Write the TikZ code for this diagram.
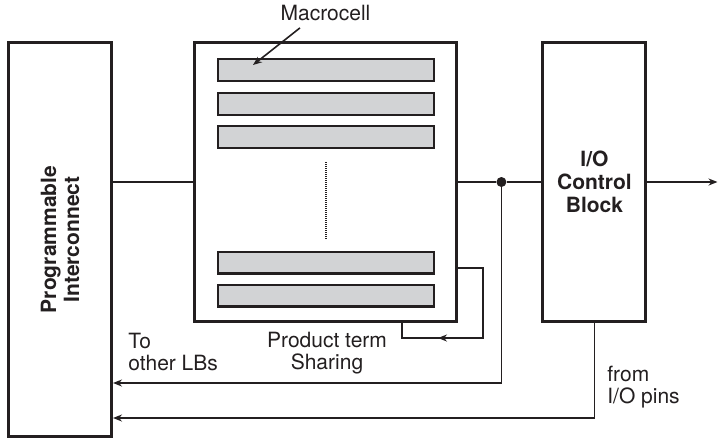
\documentclass[tikz,border=0pt]{standalone}
\usepackage{fontspec}
\setmainfont{TeX Gyre Heros}
\definecolor{ink}{RGB}{35,31,32}
\definecolor{cellgray}{RGB}{210,211,213}
\usetikzlibrary{arrows.meta, positioning, calc}

\begin{document}
\begin{tikzpicture}[
    x=0.5pt, y=-0.5pt,
    block/.style={draw=ink, line width=1.5pt, minimum width=51.5pt, minimum height=139.5pt,
                  align=center, font=\fontsize{10.5}{11.5}\selectfont\bfseries, text=ink},
    bar/.style={draw=ink, line width=1.2pt, fill=cellgray, minimum width=107.8pt, minimum height=10.8pt},
    wire/.style={draw=ink, line width=0.8pt},
    arr/.style={wire, -{Stealth[length=4.5pt, width=3.5pt]}},
    txt/.style={font=\fontsize{10.5}{11}\selectfont, text=ink},
    tapdot/.style={circle, fill=ink, inner sep=0pt, minimum size=5pt}
]
    \useasboundingbox (0,0) rectangle (720,441);

    % the three blocks
    \node[block, minimum height=197pt] (pi) at (60,239.5) {};
    \node[font=\fontsize{10.5}{11.5}\selectfont\bfseries, text=ink, align=center, rotate=90] (pilabel) at (pi.center) {Programmable\\Interconnect};
    \node[block, minimum width=131pt, right=40pt of pi.north east, anchor=north west] (lb) {};
    \node[block, right=41.75pt of lb] (io) {I/O\\Control\\Block};

    % macrocells
    \node[bar] (m1) at (326,70) {};
    \node[bar, below=5pt of m1] (m2) {};
    \node[bar, below=4.5pt of m2] (m3) {};
    \node[bar] (m5) at (326,295.5) {};
    \node[bar, above=4.5pt of m5] (m4) {};
    \draw[ink, line width=0.6pt, dash pattern=on 0.5pt off 0.5pt] ([yshift=-6.5pt]m3.south) -- ([yshift=5.5pt]m4.north);

    \node[txt] (mclabel) at (325.5,13) {Macrocell};
    \draw[arr] ([xshift=-12.75pt]mclabel.south) -- ([xshift=-36.5pt, yshift=2.5pt]m1.center);

    % signal path
    \node[tapdot] (tap) at ($(lb.east)!0.52!(io.west)$) {};
    \coordinate[right=35pt of io] (out);
    \draw[wire] (pi.east |- lb.west) -- (lb.west);
    \draw[wire] (lb.east) -- (tap) -- (io.west);
    \draw[arr] (io.east) -- (out);

    % product term sharing loop
    \coordinate (ptr) at (483,338);
    \coordinate (ptl) at (402,338);
    \coordinate (ptmid) at (438,338);
    \draw[wire] ([yshift=-43pt]lb.east) -| (ptr) -- (ptl) -- (ptl |- lb.south);
    \draw[arr] (ptr) -- (ptmid);

    % returns to the interconnect
    \draw[arr] (tap) |- ([yshift=-71.75pt]pi.east);
    \draw[arr] (io.south) |- ([yshift=-89.25pt]pi.east);

    \node[txt, align=left, anchor=west] (tolbs) at (121.3,352) {To\\other LBs};
    \node[txt, align=center] (ptsharing) at (327,353) {Product term\\Sharing};
    \node[txt, align=left, anchor=west] (frompins) at (600.3,387) {from\\I/O pins};
\end{tikzpicture}
\end{document}
